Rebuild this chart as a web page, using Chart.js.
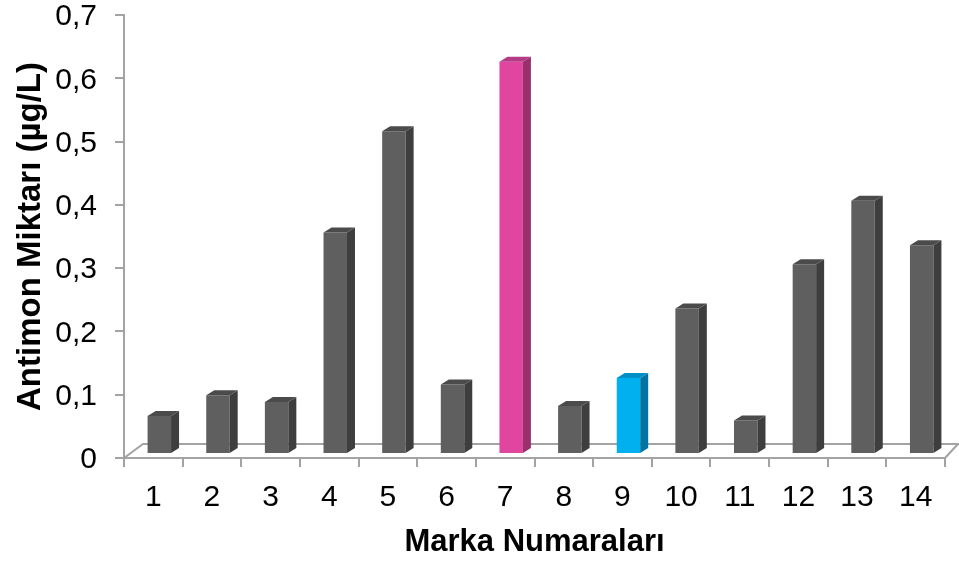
<!DOCTYPE html>
<html lang="tr">

<head>
  <meta charset="UTF-8" />
  <title>Antimon Miktarı</title>
  <script src="https://cdn.jsdelivr.net/npm/chart.js"></script>
  <style>
    html, body { margin: 0; padding: 0; background: #fff; }
    #wrap { width: 959px; height: 563px; }
  </style>
</head>

<body>
  <div id="wrap">
    <canvas id="antimonChart" width="959" height="563"></canvas>
  </div>

  <script>
    // marka numaraları ve ölçülen antimon değerleri (µg/L)
    const markalar = ['1', '2', '3', '4', '5', '6', '7', '8', '9', '10', '11', '12', '13', '14'];
    const antimon = [0.06, 0.093, 0.082, 0.35, 0.51, 0.11, 0.62, 0.076, 0.12, 0.23, 0.053, 0.30, 0.40, 0.33];
    const yTicks = [0, 0.1, 0.2, 0.3, 0.4, 0.5, 0.6, 0.7];

    // ön, üst ve yan yüz renkleri
    const onRenk = markalar.map((m, i) => i === 6 ? '#e046a0' : i === 8 ? '#00b0ef' : '#5f5f5f');
    const ustRenk = markalar.map((m, i) => i === 6 ? '#b63b86' : i === 8 ? '#0090c8' : '#4b4b4b');
    const yanRenk = markalar.map((m, i) => i === 6 ? '#9a2f6d' : i === 8 ? '#0075a3' : '#3e3e3e');

    const FONT = "'Liberation Sans', Arial, sans-serif";
    const AXIS_GRAY = '#a3a3a3';

    // 3B görünüm: zemin + çubuk yan/üst yüzleri
    const kaymaX = 6, kaymaY = 4;     // çubukların zemine göre kayması
    const derinX = 8, derinY = 5;     // çubuk derinliği
    const zeminX = 19, zeminY = 14;   // zemin derinliği (sol)
    const zeminSagX = 13;             // zemin derinliği (sağ)

    const ucBoyut = {
      id: 'ucBoyut',
      beforeDatasetsDraw(chart) {
        const ctx = chart.ctx;
        const a = chart.chartArea;
        ctx.save();
        ctx.strokeStyle = AXIS_GRAY;
        ctx.lineWidth = 2;
        ctx.beginPath();
        ctx.moveTo(a.left, a.bottom);
        ctx.lineTo(a.left + zeminX, a.bottom - zeminY);
        ctx.lineTo(chart.width, a.bottom - zeminY);
        ctx.moveTo(a.right, a.bottom);
        ctx.lineTo(a.right + zeminSagX, a.bottom - zeminY);
        ctx.stroke();
        ctx.restore();

        ctx.save();
        ctx.translate(kaymaX, -kaymaY);
      },
      afterDatasetsDraw(chart) {
        const ctx = chart.ctx;
        chart.getDatasetMeta(0).data.forEach((bar, i) => {
          const p = bar.getProps(['x', 'y', 'base', 'width'], true);
          const sol = p.x - p.width / 2;
          const sag = p.x + p.width / 2;
          // yan yüz
          ctx.fillStyle = yanRenk[i];
          ctx.beginPath();
          ctx.moveTo(sag, p.y);
          ctx.lineTo(sag + derinX, p.y - derinY);
          ctx.lineTo(sag + derinX, p.base - derinY);
          ctx.lineTo(sag, p.base);
          ctx.closePath();
          ctx.fill();
          // üst yüz
          ctx.fillStyle = ustRenk[i];
          ctx.beginPath();
          ctx.moveTo(sol, p.y);
          ctx.lineTo(sol + derinX, p.y - derinY);
          ctx.lineTo(sag + derinX, p.y - derinY);
          ctx.lineTo(sag, p.y);
          ctx.closePath();
          ctx.fill();
        });
        ctx.restore();
      }
    };

    const ctx = document.getElementById('antimonChart').getContext('2d');

    const antimonChart = new Chart(ctx, {
      type: 'bar',
      data: {
        labels: markalar,
        datasets: [{
          data: antimon,
          backgroundColor: onRenk,
          borderWidth: 0,
          categoryPercentage: 1,
          barPercentage: 0.4,
          clip: false
        }]
      },
      options: {
        responsive: false,
        animation: false,
        layout: { padding: { top: 15, right: 14, left: 0, bottom: 0 } },
        plugins: {
          legend: { display: false },
          tooltip: { enabled: false }
        },
        scales: {
          x: {
            offset: true,
            grid: {
              offset: true,
              drawOnChartArea: false,
              tickLength: 9,
              color: AXIS_GRAY,
              lineWidth: 2
            },
            border: { color: AXIS_GRAY, width: 2 },
            ticks: {
              color: '#000',
              padding: 13,
              maxRotation: 0,
              font: { family: FONT, size: 30 }
            },
            title: {
              display: true,
              text: 'Marka Numaraları',
              color: '#000',
              padding: { top: 0, bottom: 2 },
              font: { family: FONT, size: 31, weight: 'bold' }
            },
            afterFit(scale) {
              scale.height = 105;
              scale.paddingLeft = 0;
              scale.paddingRight = 0;
            }
          },
          y: {
            min: 0,
            max: 0.7,
            afterBuildTicks(scale) {
              scale.ticks = yTicks.map(v => ({ value: v }));
            },
            grid: {
              drawOnChartArea: false,
              tickLength: 9,
              color: AXIS_GRAY,
              lineWidth: 2
            },
            border: { color: AXIS_GRAY, width: 2 },
            ticks: {
              color: '#000',
              padding: 18,
              labelOffset: 2,
              font: { family: FONT, size: 30 },
              callback: v => v === 0 ? '0' : v.toFixed(1).replace('.', ',')
            },
            title: {
              display: true,
              text: 'Antimon Miktarı (µg/L)',
              color: '#000',
              padding: { top: 11, bottom: 0 },
              font: { family: FONT, size: 33, weight: 'bold' }
            },
            afterFit(scale) {
              scale.width = 124;
              scale.paddingTop = 0;
              scale.paddingBottom = 0;
            }
          }
        }
      },
      plugins: [ucBoyut]
    });
  </script>
</body>

</html>
